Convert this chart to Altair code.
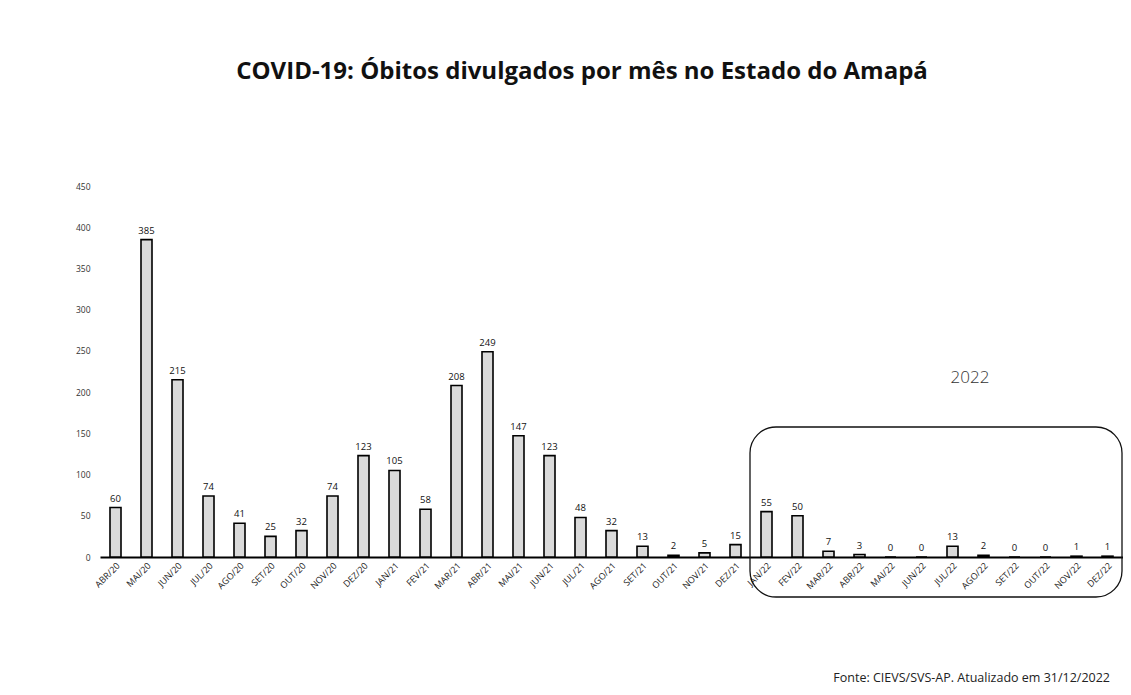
import altair as alt
import pandas as pd

months = ["ABR/20", "MAI/20", "JUN/20", "JUL/20", "AGO/20", "SET/20", "OUT/20", "NOV/20", "DEZ/20",
          "JAN/21", "FEV/21", "MAR/21", "ABR/21", "MAI/21", "JUN/21", "JUL/21", "AGO/21", "SET/21",
          "OUT/21", "NOV/21", "DEZ/21",
          "JAN/22", "FEV/22", "MAR/22", "ABR/22", "MAI/22", "JUN/22", "JUL/22", "AGO/22", "SET/22",
          "OUT/22", "NOV/22", "DEZ/22"]
deaths = [60, 385, 215, 74, 41, 25, 32, 74, 123,
          105, 58, 208, 249, 147, 123, 48, 32, 13, 2, 5, 15,
          55, 50, 7, 3, 0, 0, 13, 2, 0, 0, 1, 1]
y_ticks = [0, 50, 100, 150, 200, 250, 300, 350, 400, 450]

title_text = "COVID-19: Óbitos divulgados por mês no Estado do Amapá"
box_label = "2022"
source_text = "Fonte: CIEVS/SVS-AP. Atualizado em 31/12/2022"

df = pd.DataFrame({"mes": months, "obitos": deaths})

W, H = 1023, 371
FONT = "Open Sans"

x = alt.X("mes:N", sort=months, title=None,
          scale=alt.Scale(paddingInner=0.645, paddingOuter=0.3225),
          axis=alt.Axis(labelAngle=-45, labelFontSize=9, labelFont=FONT, labelColor="#222",
                        ticks=False, domainColor="#000", domainWidth=2, labelPadding=4))
y = alt.Y("obitos:Q", title=None,
          scale=alt.Scale(domain=[0, 450], nice=False),
          axis=alt.Axis(values=y_ticks, labelFontSize=8.5, labelFont=FONT, labelColor="#333",
                        domain=False, ticks=False, grid=False, labelPadding=10))

bars = alt.Chart(df).mark_bar(fill="#dadada", stroke="#000", strokeWidth=1.6).encode(x=x, y=y)

labels = alt.Chart(df).mark_text(dy=-9, fontSize=9.5, font=FONT, color="#111").encode(
    x=alt.X("mes:N", sort=months), y="obitos:Q", text="obitos:Q")

ann = pd.DataFrame({"t": [title_text]})
title = alt.Chart(ann).mark_text(fontSize=24, fontWeight="bold", font=FONT, color="#111",
                                 align="center", baseline="middle").encode(
    x=alt.value(482), y=alt.value(-114), text="t:N")

box = alt.Chart(ann).mark_rect(cornerRadius=26, fill=None, stroke="#111", strokeWidth=1.3).encode(
    x=alt.value(650), x2=alt.value(1022), y=alt.value(241), y2=alt.value(411))

yr = alt.Chart(pd.DataFrame({"t": [box_label]})).mark_text(
    fontSize=17, font=FONT, fontWeight=300, color="#333", align="center", baseline="middle").encode(
    x=alt.value(870), y=alt.value(192), text="t:N")

src = alt.Chart(pd.DataFrame({"t": [source_text]})).mark_text(
    fontSize=12.5, font=FONT, color="#222", align="right", baseline="middle").encode(
    x=alt.value(1010), y=alt.value(492), text="t:N")

chart = alt.layer(bars, labels, title, box, yr, src).properties(
    width=W, height=H,
    background="white",
    autosize=alt.AutoSizeParams(type="none"),
    padding={"left": 92, "top": 178, "right": 0, "bottom": 130},
).configure_view(stroke=None)

chart.save("out.html", embed_options={"renderer": "svg", "actions": False})
